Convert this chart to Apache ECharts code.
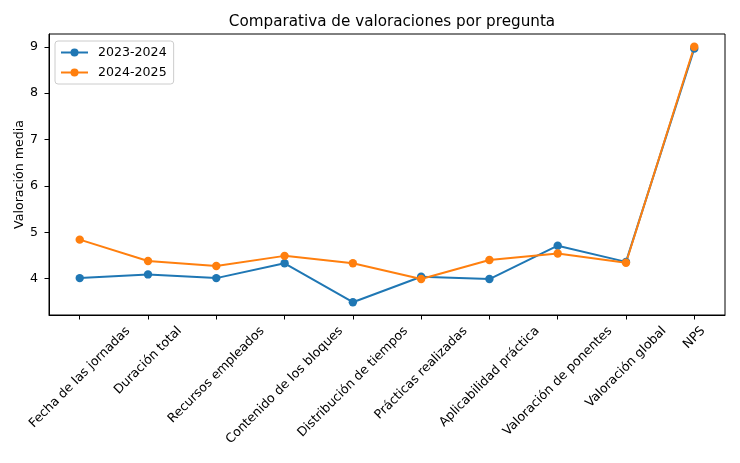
<!DOCTYPE html>
<html>
<head>
<meta charset="utf-8">
<script src="https://cdn.jsdelivr.net/npm/echarts@6/dist/echarts.min.js"></script>
<style>
html, body { margin: 0; padding: 0; background: #fff; }
#chart { width: 740px; height: 463px; }
</style>
</head>
<body>
<div id="chart"></div>
<script>
// datos
var preguntas = ['Fecha de las jornadas', 'Duración total', 'Recursos empleados', 'Contenido de los bloques',
	'Distribución de tiempos', 'Prácticas realizadas', 'Aplicabilidad práctica', 'Valoración de ponentes',
	'Valoración global', 'NPS'];
var cursos = ['2023-2024', '2024-2025'];
var val2324 = [4.01, 4.09, 4.01, 4.33, 3.49, 4.04, 3.99, 4.71, 4.36, 8.96];
var val2425 = [4.84, 4.38, 4.27, 4.49, 4.33, 3.99, 4.40, 4.54, 4.34, 9.00];
var yTicks = [4, 5, 6, 7, 8, 9];

var chart = echarts.init(document.getElementById('chart'));
var fuente = 'DejaVu Sans';
var fs = 12.6;

// margen de 5% como matplotlib
var todos = val2324.concat(val2425);
var lo = Math.min.apply(null, todos), hi = Math.max.apply(null, todos);
var yMin = lo - (hi - lo) * 0.05, yMax = hi + (hi - lo) * 0.05;

// etiquetas giradas centradas en el tick (medimos el texto para el padding)
var ctx = document.createElement('canvas').getContext('2d');
ctx.font = fs + 'px "' + fuente + '"';
var rich = {};
preguntas.forEach(function(p, i) {
	var L = ctx.measureText(p).width;
	rich['p' + i] = {fontSize: fs, fontFamily: fuente, color: '#000', padding: [L / 2, L / 2, 0, 0]};
});
var idx = preguntas.map(function(p, i) { return i; });

function pares(arr) {
	return arr.map(function(v, i) { return [i, v]; });
}

var option = {
	animation: false,
	title: {
		text: 'Comparativa de valoraciones por pregunta',
		left: 387,
		textAlign: 'center',
		top: 10,
		textStyle: {fontFamily: fuente, fontSize: 15.2, fontWeight: 'normal', color: '#000'}
	},
	legend: {
		orient: 'vertical',
		left: 55,
		top: 41,
		itemWidth: 27,
		itemHeight: 10,
		itemGap: 7,
		padding: [5, 7, 5, 5],
		borderColor: '#ccc',
		borderWidth: 1,
		borderRadius: 3,
		backgroundColor: 'rgba(255,255,255,0.8)',
		textStyle: {fontFamily: fuente, fontSize: fs, color: '#000', padding: [0, 0, 0, 5]},
		data: cursos
	},
	grid: {
		left: 49, right: 15, top: 34, bottom: 148,
		outerBoundsMode: 'none',
		show: true, borderColor: '#000', borderWidth: 1
	},
	xAxis: {
		type: 'value',
		min: -0.45,
		max: 9.45,
		axisLine: {onZero: false, lineStyle: {color: '#000', width: 1}},
		axisTick: {customValues: idx, length: 4.5, lineStyle: {color: '#000'}},
		splitLine: {show: false},
		axisLabel: {
			customValues: idx,
			rotate: 45,
			align: 'center',
			verticalAlign: 'middle',
			margin: 14,
			fontSize: fs,
			fontFamily: fuente,
			formatter: function(v) {
				var i = Math.round(v);
				return '{p' + i + '|' + preguntas[i] + '}';
			},
			rich: rich
		}
	},
	yAxis: {
		type: 'value',
		min: yMin,
		max: yMax,
		name: 'Valoración media',
		nameLocation: 'middle',
		nameGap: 23,
		nameMoveOverlap: false,
		nameTextStyle: {fontFamily: fuente, fontSize: fs, color: '#000'},
		axisLine: {show: true, onZero: false, lineStyle: {color: '#000', width: 1}},
		axisTick: {show: true, customValues: yTicks, length: 4.5, lineStyle: {color: '#000'}},
		splitLine: {show: false},
		axisLabel: {customValues: yTicks, margin: 11, fontFamily: fuente, fontSize: fs, color: '#000'}
	},
	series: [
		{
			name: cursos[0],
			type: 'line',
			data: pares(val2324),
			symbol: 'circle',
			symbolSize: 8.4,
			color: '#1f77b4',
			lineStyle: {width: 2}
		},
		{
			name: cursos[1],
			type: 'line',
			data: pares(val2425),
			symbol: 'circle',
			symbolSize: 8.4,
			color: '#ff7f0e',
			lineStyle: {width: 2}
		}
	]
};
chart.setOption(option);
</script>
</body>
</html>
